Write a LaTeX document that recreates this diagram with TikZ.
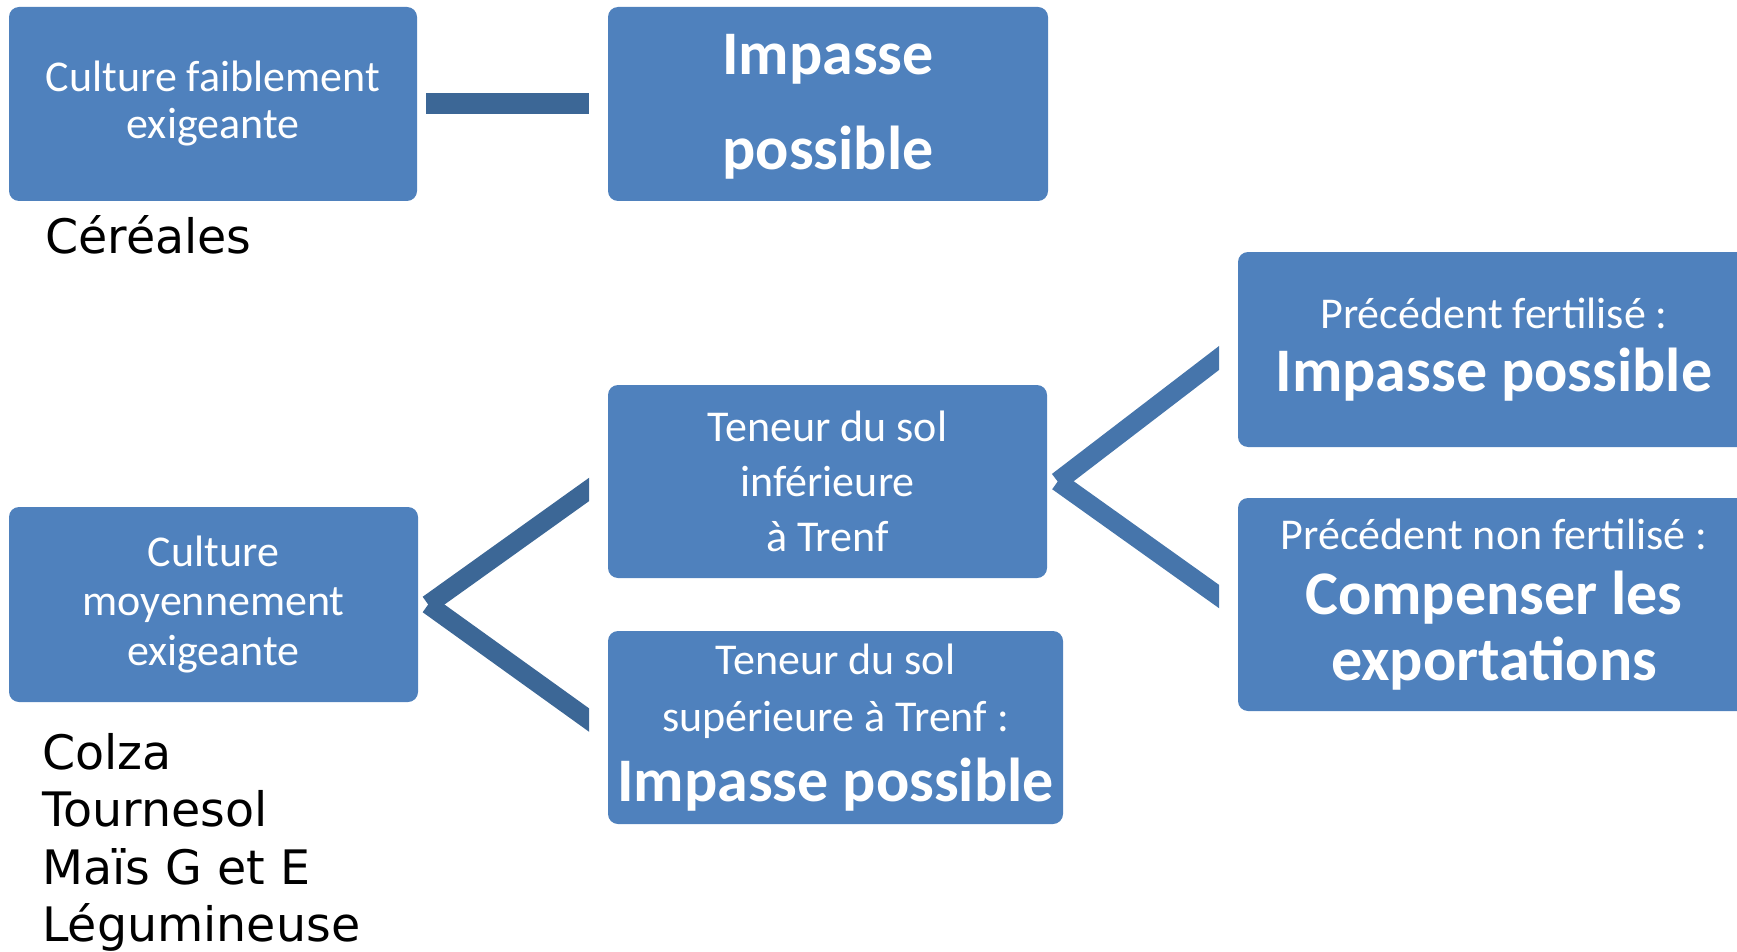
\documentclass[tikz,border=0pt]{standalone}
\usepackage{fontspec}
\newfontfamily\boxfont{Carlito}
\newfontfamily\listfont{DejaVu Sans}
\definecolor{boxblue}{HTML}{4F81BD}
\definecolor{linkdark}{HTML}{3C6796}
\definecolor{linklight}{HTML}{4675AB}
\newcommand{\boldline}[1]{{\bfseries\fontsize{62}{62}\selectfont #1}}

\begin{document}
\begin{tikzpicture}
		[x=1pt,y=-1pt,
		box/.style={rectangle,rounded corners=10pt,fill=boxblue,text=white,align=center,inner sep=0pt},
		plain/.style={font=\boxfont\fontsize{44}{#1}\selectfont},
		big/.style={font=\boxfont\bfseries\fontsize{62}{#1}\selectfont},
		crop/.style={inner sep=0pt,anchor=base west,align=left,font=\listfont\fontsize{47.5}{57.5}\selectfont},
		link/.style={draw=linkdark,line width=19pt}]
		\useasboundingbox (0,0) rectangle (1737,952);
		
		% boxes
		\node[box,plain=47,minimum width=408pt,minimum height=194pt] (cf) at (213,104) {Culture faiblement\\exigeante};
		\node[box,big=94.5,minimum width=440pt,minimum height=194pt] (ip) at (828,104) {\rule{0pt}{46pt}Impasse\\possible};
		\node[box,plain=49.5,minimum width=409pt,minimum height=195pt] (cm) at (213.5,604.5) {Culture\\moyennement\\exigeante};
		\node[box,plain=55,minimum width=439pt,minimum height=193pt] (ti) at (827.5,481.5) {Teneur du sol\\inférieure\\à Trenf};
		\node[box,plain=57,minimum width=455pt,minimum height=193pt] (ts) at (835.5,727.5) {Teneur du sol\\supérieure à Trenf :\\[13pt]\boldline{Impasse possible}};
		\node[box,plain=63,minimum width=512pt,minimum height=195pt] (pf) at (1494,349.5) {Précédent fertilisé :\\\boldline{Impasse possible}};
		\node[box,plain=65.5,minimum width=512pt,minimum height=213pt] (pn) at (1494,604.5) {Précédent non fertilisé :\\\boldline{Compenser les}\\\boldline{exportations}};
		
		% crops
		\node[crop] (cer) at (45,253) {Céréales};
		\node[crop] (lst) at (42,941.5) {Colza\\Tournesol\\Maïs G et E\\Légumineuse};
		
		% connectors
		\draw[link,line width=21pt] ([xshift=9pt]cf.east) -- ([xshift=-19pt]ip.west);
		
		\coordinate (vc) at ([xshift=10pt]cm.east);
		\coordinate (ed) at (589,489.5);
		\coordinate (ee) at (589,720);
		\begin{scope}
		\clip (0,0) rectangle (589,952);
		\foreach \to in {ed,ee}
		\draw[link,shorten >=-15pt] (vc) -- (\to);
		\end{scope}
		
		\coordinate (vt) at ([xshift=10.5pt]ti.east);
		\coordinate (ef) at (1219,358);
		\coordinate (eg) at (1219,596.5);
		\begin{scope}
		\clip (0,0) rectangle (1219,952);
		\foreach \to in {ef,eg}
		\draw[link,draw=linklight,shorten >=-15pt] (vt) -- (\to);
		\end{scope}
\end{tikzpicture}
\end{document}
